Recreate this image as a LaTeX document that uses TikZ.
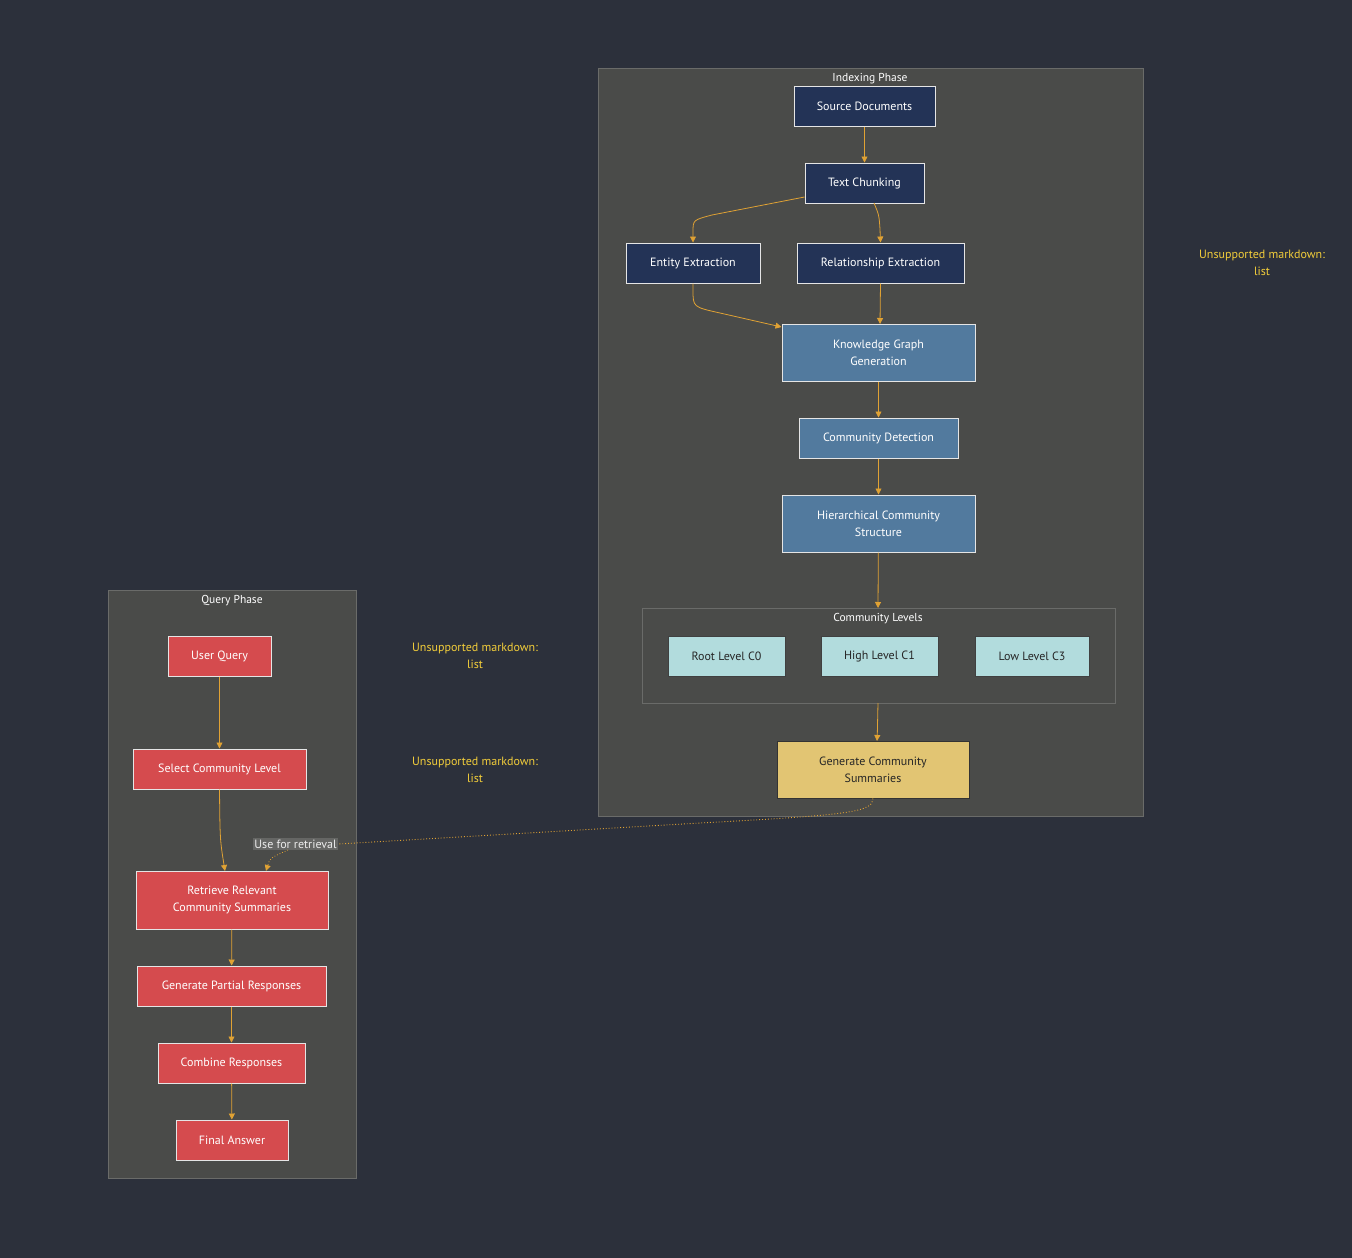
\documentclass[tikz,border=0pt]{standalone}
\usepackage{fontspec}
\setmainfont{PT Sans}
\usetikzlibrary{positioning, arrows.meta, calc}
\definecolor{bgDark}{HTML}{2C303B}
\definecolor{clusterFill}{HTML}{4A4B49}
\definecolor{clusterLine}{HTML}{6A6B69}
\definecolor{navyNode}{HTML}{233356}
\definecolor{steelNode}{HTML}{527A9E}
\definecolor{cyanNode}{HTML}{B2DCDD}
\definecolor{redNode}{HTML}{D54B4E}
\definecolor{goldNode}{HTML}{E2C573}
\definecolor{edgeOrange}{HTML}{E0A234}
\definecolor{noteYellow}{HTML}{F2CD3A}

\begin{document}
\begin{tikzpicture}[
    x=1pt, y=-1pt,
    every node/.style={font=\fontsize{12}{17}\selectfont, align=center},
    proc/.style={draw=#1, line width=1pt, minimum height=40pt, inner sep=2pt},
    navybox/.style={proc=white!80!gray, fill=navyNode, text=white},
    steelbox/.style={proc=white!80!gray, fill=steelNode, text=white},
    levelbox/.style={proc=black!75, fill=cyanNode, text=black!85},
    redbox/.style={proc=white!80!gray, fill=redNode, text=white},
    goldbox/.style={proc=black!80, fill=goldNode, text=black!85},
    cluster/.style={draw=clusterLine, fill=clusterFill, line width=1pt},
    title_label/.style={text=white, font=\fontsize{11.5}{14}\selectfont},
    note_label/.style={text=noteYellow, font=\fontsize{12}{17}\selectfont},
    flow/.style={draw=edgeOrange, line width=0.8pt, -{Triangle[length=6pt, width=6pt]}}
]
\fill[bgDark] (0,0) rectangle (1352,1258);
\useasboundingbox (0,0) rectangle (1352,1258);

% clusters
\draw[cluster] (598,68) rectangle (1143,816);
\node[title_label] (idxTitle) at (870,79) {Indexing Phase};
\draw[cluster] (642,608) rectangle (1115,703);
\node[title_label] (lvlTitle) at (878,619) {Community Levels};
\draw[cluster] (108,590) rectangle (356,1178);
\node[title_label] (qryTitle) at (232,601) {Query Phase};

% indexing phase
\node[navybox, minimum width=141pt] (srcDocs) at (864.5,106) {Source Documents};
\node[navybox, minimum width=119pt] (chunking) at (864.5,183) {Text Chunking};
\node[navybox, minimum width=134pt] (entity) at (693,263) {Entity Extraction};
\node[navybox, minimum width=167pt] (relation) at (880.5,263) {Relationship Extraction};
\node[steelbox, minimum width=193pt, minimum height=57pt] (kgGen) at (878.5,352.5) {Knowledge Graph\\Generation};
\node[steelbox, minimum width=159pt] (commDet) at (878.5,438) {Community Detection};
\node[steelbox, minimum width=193pt, minimum height=57pt] (hierStruct) at (878.5,523.5) {Hierarchical Community\\Structure};
\node[levelbox, minimum width=117pt] (rootC0) at (726.5,656) {Root Level C0};
\node[levelbox, minimum width=117pt] (highC1) at (879.5,656) {High Level C1};
\node[levelbox, minimum width=114pt] (lowC3) at (1032,656) {Low Level C3};
\coordinate (lvlTop) at (878,608);
\coordinate (lvlBot) at (878,703);
\node[goldbox, minimum width=192pt, minimum height=57pt] (genSumm) at (873,769.5) {Generate Community\\Summaries};

% query phase
\node[redbox, minimum width=103pt] (userQ) at (219.5,656) {User Query};
\node[redbox, minimum width=173pt] (selLevel) at (219.5,769) {Select Community Level};
\node[redbox, minimum width=192pt, minimum height=58pt] (retrieve) at (232,900) {Retrieve Relevant\\Community Summaries};
\node[redbox, minimum width=189pt] (partial) at (231.5,986) {Generate Partial Responses};
\node[redbox, minimum width=147pt] (combine) at (231.5,1063) {Combine Responses};
\node[redbox, minimum width=112pt] (final) at (232,1140) {Final Answer};

% notes
\node[note_label] (note1) at (475,655.5) {Unsupported markdown:\\list};
\node[note_label] (note2) at (475,769.5) {Unsupported markdown:\\list};
\node[note_label] (note3) at (1262,263) {Unsupported markdown:\\list};

% edges
\draw[flow] (srcDocs) -- (chunking);
\draw[flow] (chunking.west |- 0,197) -- (712,215) .. controls (693,220) .. (693,232) -- (entity.north);
\draw[flow] (874,203) .. controls (879,215) .. (880,229) -- (relation.north);
\draw[flow] (entity.south) -- (693,290) .. controls (693,307) .. (720,313) -- (kgGen.north west |- 0,327);
\draw[flow] (relation.south) -- (880,324);
\draw[flow] (kgGen) -- (commDet);
\draw[flow] (commDet) -- (hierStruct);
\draw[flow] (hierStruct) -- (lvlTop);
\draw[flow] (lvlBot) .. controls (878,720) .. (877,741);
\draw[flow] (userQ) -- (selLevel);
\draw[flow] (selLevel.south) .. controls (220,840) .. (225,871);
\draw[flow] (retrieve) -- (partial);
\draw[flow] (partial) -- (combine);
\draw[flow] (combine) -- (final);

% dotted link between phases
\node[fill=clusterFill!85!white, text=white!85!gray, inner sep=1.5pt, font=\fontsize{12}{14}\selectfont] (useRetr) at (295.5,844) {Use for retrieval};
\draw[edgeOrange, line width=0.9pt, dotted] (genSumm.south) .. controls (873,812) and (850,815) .. (700,823) -- (useRetr.east);
\draw[flow, dotted] (useRetr.south -| 288,0) .. controls (270,858) .. (266,871);
\end{tikzpicture}
\end{document}
